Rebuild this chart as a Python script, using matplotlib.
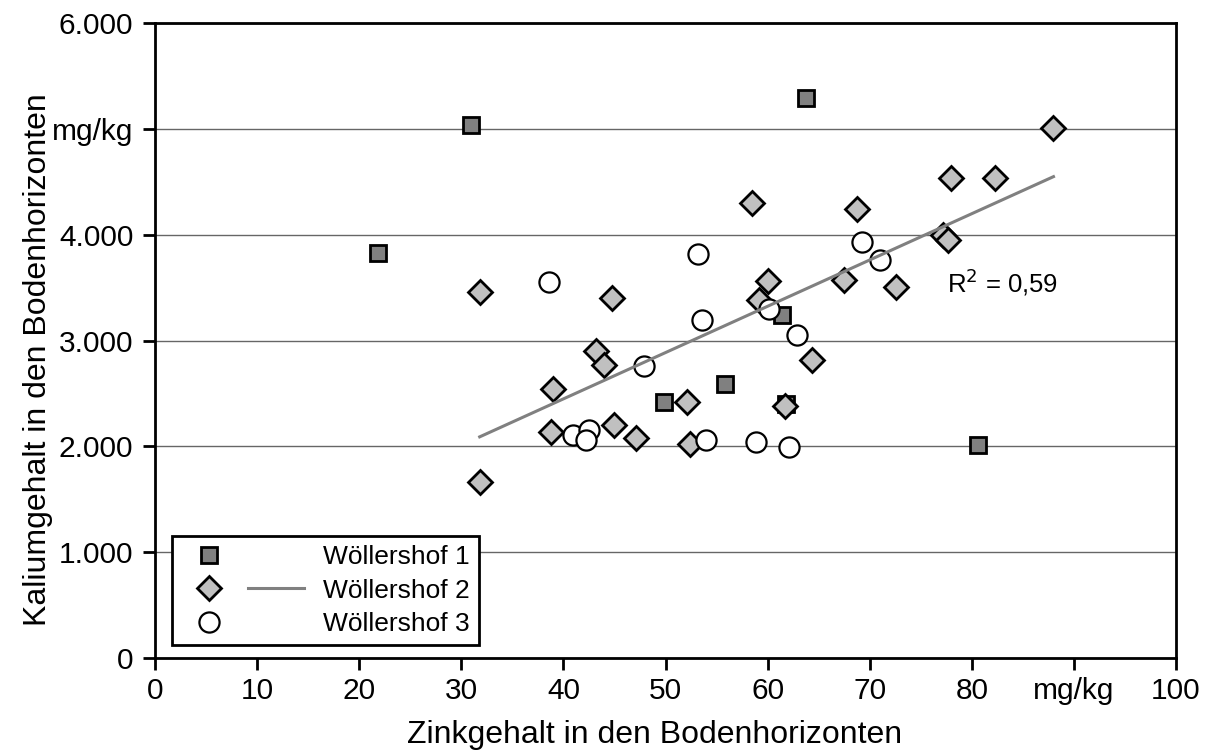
import numpy as np
import matplotlib
matplotlib.use("Agg")
import matplotlib.pyplot as plt
from matplotlib.lines import Line2D
from matplotlib.legend_handler import HandlerTuple

plt.rcParams["font.family"] = ["Liberation Sans", "DejaVu Sans"]

# Wöllershof 1 (Quadrate)
w1_zn = [21.8, 30.9, 63.8, 49.9, 55.8, 61.4, 61.8, 80.6]
w1_k = [3830, 5040, 5290, 2420, 2590, 3240, 2400, 2010]

# Wöllershof 2 (Rauten)
w2_zn = [31.8, 31.8, 39.0, 38.8, 44.8, 43.2, 44.0, 45.0, 47.1, 52.1, 52.4,
         58.5, 59.2, 60.0, 61.7, 64.3, 67.5, 68.8, 72.6, 77.2, 77.7, 78.0,
         82.3, 88.0]
w2_k = [3460, 1660, 2540, 2140, 3400, 2900, 2770, 2200, 2080, 2420, 2020,
        4300, 3380, 3560, 2380, 2820, 3570, 4240, 3510, 4000, 3950, 4540,
        4540, 5010]

# Wöllershof 3 (Kreise)
w3_zn = [38.6, 53.2, 53.6, 47.9, 40.9, 42.5, 42.2, 54.0, 58.9, 62.1, 60.1,
         62.9, 69.2, 71.0]
w3_k = [3550, 3820, 3190, 2760, 2110, 2150, 2060, 2060, 2040, 1990, 3300,
        3050, 3930, 3760]

x_ticks = [0, 10, 20, 30, 40, 50, 60, 70, 80, 90, 100]
x_labels = ["0", "10", "20", "30", "40", "50", "60", "70", "80", "mg/kg", "100"]
y_ticks = [0, 1000, 2000, 3000, 4000, 5000, 6000]
y_labels = ["0", "1.000", "2.000", "3.000", "4.000", "mg/kg", "6.000"]

sq = dict(ls="none", marker="s", ms=11.5, mfc="#808080", mec="black", mew=2)
dia = dict(ls="none", marker="D", ms=12, mfc="#c0c0c0", mec="black", mew=2)
circ = dict(ls="none", marker="o", ms=14.5, mfc="white", mec="black", mew=1.6)
trend = dict(color="#808080", lw=2.2)

fig = plt.figure(figsize=(12.13, 7.52), dpi=100)
ax = fig.add_axes([0.1278, 0.125, 0.8417, 0.8444])

ax.plot(w1_zn, w1_k, zorder=3, **sq)
ax.plot(w2_zn, w2_k, zorder=4, **dia)
ax.plot(w3_zn, w3_k, zorder=5, **circ)

# lineare Trendlinie Wöllershof 2
slope, icpt = np.polyfit(w2_zn, w2_k, 1)
xs = np.array([min(w2_zn), max(w2_zn)])
ax.plot(xs, slope * xs + icpt, zorder=6, **trend)
ax.text(77.6, 3550, "R$^2$ = 0,59", fontsize=18.5, va="center", ha="left")

ax.set_xlim(0, 100)
ax.set_ylim(0, 6000)
ax.set_xticks(x_ticks)
ax.set_xticklabels(x_labels)
ax.set_yticks(y_ticks)
ax.set_yticklabels(y_labels)
ax.tick_params(labelsize=21.5, width=2, length=8.5, direction="out")
ax.tick_params(axis="x", pad=5)
ax.tick_params(axis="y", pad=7)
ax.yaxis.grid(True, color="#666666", lw=1)
ax.set_axisbelow(True)
for s in ax.spines.values():
    s.set_linewidth(2)

ax.set_xlabel("Zinkgehalt in den Bodenhorizonten", fontsize=23)
ax.set_ylabel("Kaliumgehalt in den Bodenhorizonten", fontsize=23)
ax.xaxis.set_label_coords(0.489, -0.097)
ax.yaxis.set_label_coords(-0.1, 0.47)

h1 = Line2D([], [], **sq)
h2 = Line2D([], [], **dia)
h3 = Line2D([], [], **circ)
hl = Line2D([], [], **trend)
blank = Line2D([], [], ls="none")
leg = ax.legend([(h1, blank), (h2, hl), (h3, blank)],
                ["Wöllershof 1", "Wöllershof 2", "Wöllershof 3"],
                handler_map={tuple: HandlerTuple(ndivide=None, pad=0.42)},
                loc="lower left", bbox_to_anchor=(0.017, 0.02),
                fontsize=19, handlelength=4.64, handletextpad=0.7,
                borderpad=0.35, labelspacing=0.36, borderaxespad=0,
                fancybox=False, framealpha=1, edgecolor="black")
leg.get_frame().set_linewidth(2)

fig.savefig("out.png", dpi=100)
